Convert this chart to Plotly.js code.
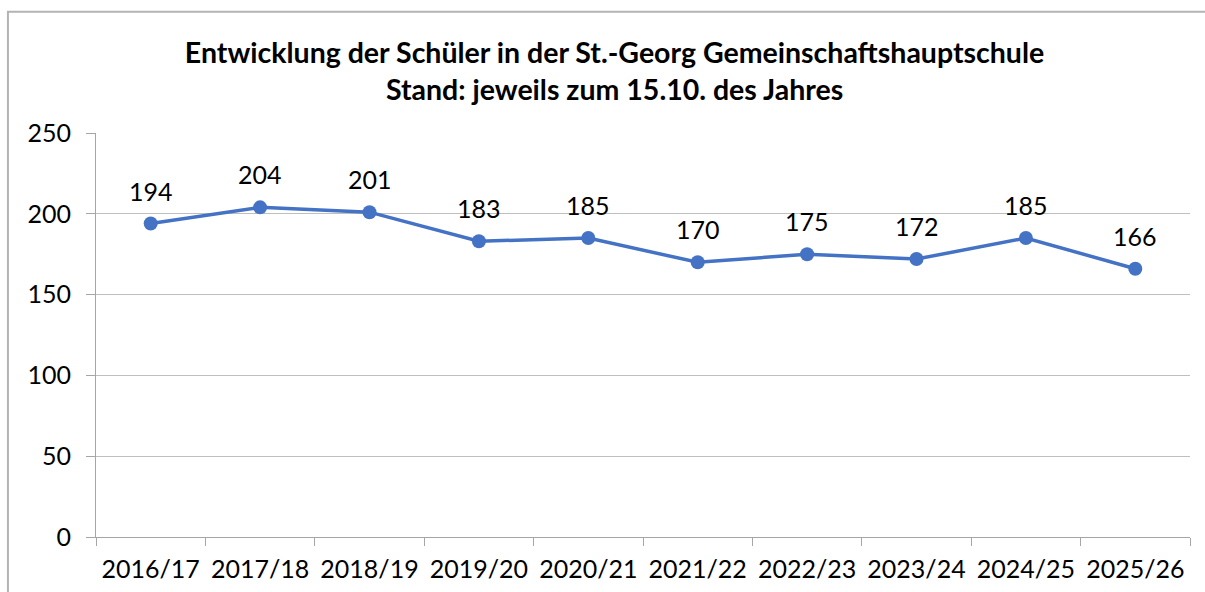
<!DOCTYPE html>
<html><head><meta charset="utf-8">
<script src="https://cdn.plot.ly/plotly-3.0.1.min.js"></script>
<style>html,body{margin:0;padding:0;background:#fff;}#chart{width:1205px;height:592px;}</style>
</head><body><div id="chart"></div>
<script>
const categories = ["2016/17","2017/18","2018/19","2019/20","2020/21","2021/22","2022/23","2023/24","2024/25","2025/26"];
const students = [194, 204, 201, 183, 185, 170, 175, 172, 185, 166];
const yTicks = [0, 50, 100, 150, 200, 250];
const titleText = "<b>Entwicklung der Schüler in der St.-Georg Gemeinschaftshauptschule<br>Stand: jeweils zum 15.10. des Jahres</b>";

const FONT = "Lato, 'Open Sans', sans-serif";
const blue = "#4472C4";

const trace = {
  type: "scatter", mode: "lines+markers",
  x: categories, y: students,
  line: {color: blue, width: 3.5},
  marker: {color: blue, size: 14},
  hoverinfo: "x+y"
};

const annotations = categories.map((c, i) => ({
  x: c, y: students[i], xref: "x", yref: "y",
  text: String(students[i]), showarrow: false,
  yshift: 33, font: {family: FONT, size: 25, color: "#000"}
}));

const layout = {
  width: 1205, height: 592,
  paper_bgcolor: "#fff", plot_bgcolor: "#fff",
  margin: {l: 96, r: 15, t: 133, b: 55},
  showlegend: false,
  font: {family: FONT, size: 25, color: "#000"},
  title: {text: titleText, x: 0.51, xanchor: "center", y: 0.894, yanchor: "middle",
          font: {family: FONT, size: 28.5, color: "#000"}},
  xaxis: {type: "category", range: [-0.5, 9.5], tickson: "boundaries",
          ticks: "outside", ticklen: 8, tickcolor: "#a6a6a6", tickwidth: 1,
          ticklabelstandoff: 10,
          showline: true, linecolor: "#a6a6a6", linewidth: 1,
          showgrid: false, zeroline: false,
          tickfont: {family: FONT, size: 25, color: "#000"}},
  yaxis: {range: [0, 250], tickvals: yTicks, ticks: "outside", ticklen: 9,
          ticklabelstandoff: 10,
          tickcolor: "#a6a6a6", showline: true, linecolor: "#a6a6a6",
          showgrid: true, gridcolor: "#bfbfbf", zeroline: false,
          tickfont: {family: FONT, size: 25, color: "#000"}},
  annotations: annotations,
  shapes: [{type: "rect", xref: "paper", yref: "paper",
            x0: -0.0805, x1: 1.04, y0: -0.2, y1: 1.3,
            line: {color: "#b3b3b3", width: 2}, fillcolor: "rgba(0,0,0,0)", layer: "below"}]
};

Plotly.newPlot("chart", [trace], layout, {displayModeBar: false, staticPlot: true});
</script></body></html>
